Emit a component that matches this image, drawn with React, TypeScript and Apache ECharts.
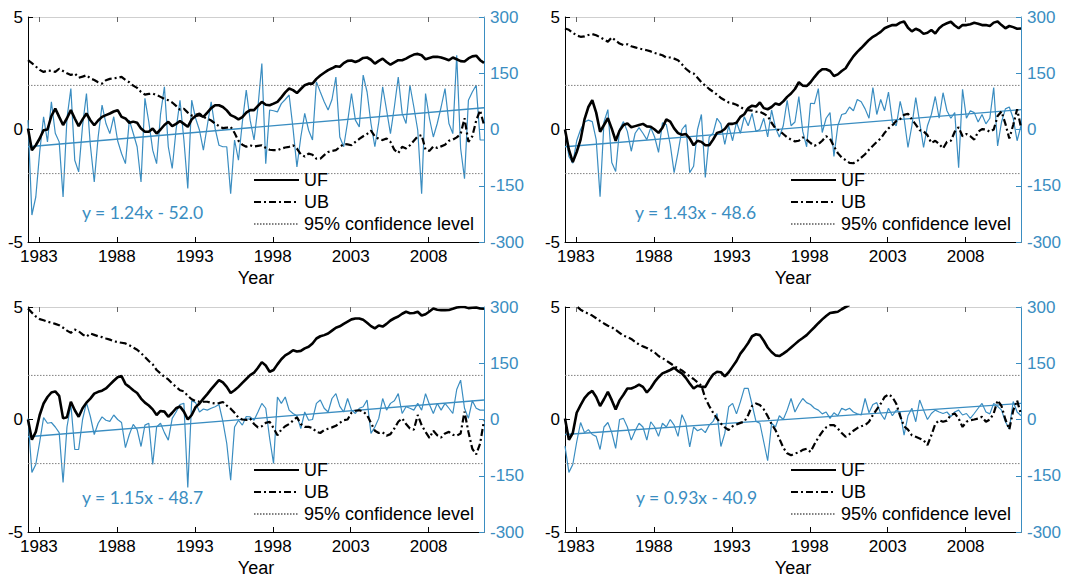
import React, { useEffect, useRef } from "react";
import * as echarts from "echarts";

// ---------- data ----------
const X_START = 1982.3; // first quarterly observation (decimal year)
const X_STEP = 0.25; // quarterly
const N_POINTS = 118;
const YEAR_TICKS = [1983, 1988, 1993, 1998, 2003, 2008];
const LEFT_TICKS = { min: -5, max: 5, interval: 5 };
const RIGHT_TICKS = { min: -300, max: 300, interval: 150 };
const CONF_LEVEL = 1.96;

// Panel A (top-left)
const UF_A = [
  0.04, -0.92, -0.7, -0.4, -0.03, 0, 0.6, 0.93, 0.56, 0.2,
  0.5, 0.86, 0.49, 0.15, 0.45, 0.71, 0.41, 0.19, 0.4, 0.56,
  0.64, 0.71, 0.8, 0.86, 0.56, 0.49, 0.3, 0.35, 0.3, 0.04,
  -0.1, -0.1, 0.04, -0.18, 0.0, 0.2, 0.34, 0.15, 0.25, 0.38,
  0.25, 0.12, 0.45, 0.6, 0.64, 0.56, 0.75, 0.95, 1.08, 1.08,
  1.0, 0.85, 0.64, 0.56, 0.45, 0.55, 0.75, 0.86, 0.86, 1.05,
  1.23, 1.1, 1.08, 1.15, 1.23, 1.43, 1.65, 1.82, 1.75, 1.62,
  1.8, 1.97, 2.04, 2.04, 2.25, 2.4, 2.52, 2.64, 2.72, 2.81,
  2.79, 2.95, 3.05, 3.07, 3.0, 3.07, 3.18, 3.2, 3.1, 2.93,
  3.05, 3.15, 3.0, 2.88, 2.98, 3.08, 3.08, 3.15, 3.25, 3.33,
  3.36, 3.3, 3.12, 3.18, 3.23, 3.23, 3.2, 3.14, 3.08, 3.2,
  3.12, 3.04, 3.02, 3.16, 3.25, 3.28, 3.08, 2.96,
];
const UB_A = [
  3.08, 2.95, 2.8, 2.65, 2.56, 2.62, 2.6, 2.56, 2.7, 2.6,
  2.5, 2.42, 2.49, 2.3, 2.35, 2.41, 2.27, 2.2, 2.1, 2.04,
  2.19, 2.25, 2.27, 2.3, 2.34, 2.2, 2.1, 1.95, 1.85, 1.67,
  1.55, 1.58, 1.6, 1.53, 1.45, 1.36, 1.3, 1.2, 1.05, 0.88,
  0.92, 0.75, 0.62, 0.65, 0.71, 0.56, 0.48, 0.4, 0.27, 0.15,
  0.06, 0.08, 0.12, -0.15, -0.5, -0.68, -0.77, -0.7, -0.76, -0.73,
  -0.7, -0.82, -0.9, -0.92, -0.92, -0.85, -0.8, -0.77, -0.7, -0.85,
  -1.1, -1.2, -1.07, -1.12, -1.3, -1.3, -1.14, -1.0, -0.95, -0.92,
  -0.78, -0.65, -0.66, -0.7, -0.55, -0.42, -0.3, -0.2, -0.05, -0.3,
  -0.42, -0.47, -0.4, -0.55, -0.9, -1.05, -0.77, -0.84, -0.7, -0.5,
  -0.3, -0.25, -0.9, -0.95, -0.75, -0.82, -0.75, -0.68, -0.5, -0.45,
  -0.35, -0.2, 0.5, -0.55, -0.3, 0.4, 0.85, 0.2,
];
const FLOW_A = [
  25, -228, -180, -60, 34, -33, 74, -10, -33, -180,
  30, 109, -82, -113, 10, 96, -42, -140, -20, 65,
  16, -11, 34, -30, -64, -91, 25, -10, -46, -140,
  83, 20, -55, -91, 40, 114, -46, -104, 0, 78,
  -28, -157, 78, 30, -2, -55, 10, 74, 3, -42,
  -46, -46, -171, -28, -82, 20, 105, 25, -28, 60,
  176, -91, 52, 50, 47, 69, 80, 92, 3, -100,
  -20, 43, -2, -28, 127, 100, 74, 52, 80, 140,
  -20, -46, 20, 96, 25, 7, 145, 100, 16, -46,
  20, 114, 52, -11, 60, 140, 43, 16, 118, 60,
  -2, -171, 96, 30, -20, 16, 60, 109, 16, -11,
  198, -50, -131, 78, 100, 118, -28, -28,
];
const TREND_A = [-46, 58];

// Panel B (top-right)
const UF_B = [
  0, -0.9, -1.45, -1.0, -0.45, 0.45, 1.0, 1.3, 0.75, -0.1,
  0.2, 0.5, 0.04, -0.5, -0.05, 0.2, 0.27, 0.1, 0.15, 0.2,
  0.25, 0.14, 0.12, 0.0, -0.15, 0.08, 0.45, 0.35, 0.05, -0.16,
  -0.23, -0.2, -0.4, -0.7, -0.5, -0.55, -0.7, -0.7, -0.45, -0.15,
  -0.1, 0.02, 0.25, 0.25, 0.3, 0.56, 0.68, 0.95, 1.06, 1.02,
  1.2, 0.95, 0.9, 1.0, 1.16, 1.1, 1.25, 1.45, 1.6, 1.8,
  2.1, 1.95, 1.93, 2.1, 2.33, 2.54, 2.68, 2.68, 2.6, 2.38,
  2.45, 2.6, 2.72, 3.0, 3.25, 3.45, 3.62, 3.8, 3.98, 4.12,
  4.22, 4.34, 4.5, 4.58, 4.64, 4.64, 4.75, 4.8, 4.52, 4.36,
  4.48, 4.4, 4.25, 4.3, 4.42, 4.27, 4.5, 4.64, 4.72, 4.79,
  4.62, 4.5, 4.64, 4.64, 4.68, 4.74, 4.7, 4.64, 4.64, 4.6,
  4.75, 4.8, 4.64, 4.5, 4.6, 4.55, 4.48, 4.49,
];
const UB_B = [
  4.49, 4.43, 4.3, 4.18, 4.12, 4.14, 4.2, 4.24, 4.19, 4.1,
  4.0, 3.9, 4.09, 3.95, 3.82, 3.75, 3.79, 3.7, 3.65, 3.6,
  3.56, 3.52, 3.47, 3.4, 3.35, 3.3, 3.2, 3.2, 3.15, 3.08,
  2.9, 2.7, 2.56, 2.49, 2.3, 2.1, 1.95, 1.8, 1.68, 1.55,
  1.4, 1.3, 1.2, 1.16, 1.1, 1.0, 0.9, 0.86, 0.84, 0.79,
  0.79, 0.7, 0.6, 0.3, 0.05, -0.05, -0.2, -0.35, -0.45, -0.53,
  -0.5, -0.35, -0.45, -0.6, -0.72, -0.65, -0.5, -0.3, -0.4, -0.75,
  -1.05, -1.25, -1.36, -1.48, -1.5, -1.4, -1.25, -1.1, -0.9, -0.72,
  -0.55, -0.4, -0.15, 0.05, 0.19, 0.38, 0.47, 0.65, 0.7, 0.45,
  0.22, -0.03, -0.08, -0.25, -0.6, -0.5, -0.65, -0.84, -0.55, -0.5,
  -0.1, 0.1, -0.3, -0.2, -0.3, -0.45, -0.1, 0.02, 0.0, -0.1,
  0.0, 0.6, 0.8, 0.25, -0.4, 0.2, 0.9, 0.1,
];
const FLOW_B = [
  -2, -72, -90, -30, 0, 20, 25, 21, -27, -179,
  20, 53, -88, -112, 0, 21, -5, -58, -10, 5,
  -10, -27, 5, -20, -61, 18, 13, -40, -115, -61,
  0, 13, -115, -98, 0, 40, -128, -20, -10, 30,
  15, -40, 10, -30, 20, -10, 34, 10, 43, -5,
  0, 30, -20, 52, 5, -20, 10, 78, 10, 20,
  88, -5, -46, 70, 69, 109, -8, 30, 45, -72,
  10, 40, 43, 60, 50, 80, 74, 55, 30, 112,
  40, 80, 50, 100, 20, 10, 75, 30, -48, 10,
  85, 20, -48, 10, 40, 88, 30, 98, 50, 30,
  45, -102, 107, 30, 50, 45, 20, 40, 15, 30,
  112, -44, 20, 55, 60, 30, -30, 10,
];
const TREND_B = [-46, 53];

// Panel C (bottom-left)
const UF_C = [
  0, -0.9, -0.55, 0.2, 0.71, 1.0, 1.2, 1.25, 1.05, 0.05,
  0.1, 0.79, 0.41, 0.12, 0.5, 0.75, 0.93, 1.15, 1.23, 1.28,
  1.38, 1.55, 1.72, 1.88, 1.93, 1.58, 1.45, 1.3, 1.18, 0.93,
  0.75, 0.62, 0.45, 0.2, 0.38, 0.35, 0.12, 0.3, 0.5, 0.58,
  0.35, 0.0, 0.2, 0.55, 0.71, 0.93, 1.13, 1.35, 1.55, 1.75,
  1.65, 1.45, 1.18, 1.3, 1.45, 1.63, 1.8, 1.97, 2.08, 2.3,
  2.55, 2.4, 2.12, 2.2, 2.45, 2.68, 2.85, 2.95, 3.08, 3.02,
  3.05, 3.16, 3.23, 3.38, 3.6, 3.7, 3.75, 3.82, 3.95, 4.08,
  4.14, 4.25, 4.35, 4.45, 4.49, 4.49, 4.43, 4.3, 4.15, 4.05,
  4.18, 4.13, 4.25, 4.4, 4.5, 4.58, 4.7, 4.79, 4.72, 4.73,
  4.79, 4.62, 4.68, 4.8, 4.93, 4.88, 4.86, 4.86, 4.87, 4.92,
  4.98, 5.0, 5.0, 4.95, 4.97, 4.98, 4.93, 4.92,
];
const UB_C = [
  4.93, 4.75, 4.58, 4.46, 4.41, 4.35, 4.3, 4.25, 4.19, 4.08,
  3.95, 3.85, 4.0, 3.92, 3.78, 3.68, 3.82, 3.76, 3.7, 3.66,
  3.6, 3.55, 3.48, 3.44, 3.41, 3.38, 3.3, 3.2, 3.1, 2.95,
  2.78, 2.6, 2.45, 2.2, 2.05, 1.9, 1.78, 1.6, 1.45, 1.3,
  1.25, 1.05, 0.9, 0.82, 0.79, 0.79, 0.79, 0.74, 0.71, 0.73,
  0.78, 0.62, 0.48, 0.3, 0.08, 0.0, -0.02, 0.04, -0.2, -0.35,
  -0.3, -0.15, -0.1, -0.38, -0.7, -0.45, -0.3, -0.2, -0.05, 0.1,
  -0.2, -0.33, -0.33, -0.38, -0.55, -0.6, -0.47, -0.41, -0.35, -0.28,
  -0.15, -0.03, 0.0, 0.3, 0.39, 0.41, 0.35, 0.2, -0.15, -0.5,
  -0.6, -0.57, -0.72, -0.65, -0.4, -0.1, 0.05, -0.2, -0.4, -0.45,
  0.2, -0.25, -0.55, -0.82, -0.5, -0.7, -0.8, -0.62, -0.55, -0.68,
  -0.72, -0.62, 0.35, -0.55, -1.3, -1.55, -1.07, -0.05,
];
const FLOW_C = [
  3, -141, -120, -60, 5, -10, -8, -20, -35, -168,
  -20, 40, -80, -80, 0, 45, 8, -40, -10, 7,
  -2, -5, 12, 0, -8, -75, -40, -13, -27, -72,
  -15, -10, -120, -20, -10, -35, -55, 3, 20, 40,
  43, -181, 50, 45, 20, 28, 25, 30, 34, 40,
  -5, -64, -162, -20, -2, -15, 8, 7, -2, 20,
  43, 30, -50, -117, 60, 43, 60, 25, 16, 10,
  -24, 20, -2, 0, 43, 52, 30, 20, 56, 69,
  35, 20, 56, 25, 16, 30, 34, 52, -37, -20,
  3, 56, 25, 43, 50, 69, 16, 34, 30, 25,
  43, 25, 69, 40, 16, 43, 25, 43, 30, 16,
  80, 105, 30, 3, 50, 30, 25, 25,
];
const TREND_C = [-46, 52];

// Panel D (bottom-right) - UF leaves the plot at the top after ~2000
const UF_D = [
  0.04, -0.9, -0.6, 0.3, 0.64, 0.95, 1.15, 1.27, 1.0, 0.6,
  0.9, 1.23, 0.86, 0.45, 0.85, 1.1, 1.38, 1.38, 1.45, 1.55,
  1.45, 1.2, 1.4, 1.67, 1.88, 2.05, 2.12, 2.2, 2.3, 2.15,
  2.05, 1.85, 1.6, 1.38, 1.5, 1.45, 1.45, 1.75, 2.0, 2.12,
  2.1, 1.92, 2.1, 2.35, 2.6, 2.93, 3.15, 3.4, 3.7, 3.79,
  3.75, 3.5, 3.2, 3.0, 2.85, 2.82, 2.93, 3.05, 3.2, 3.35,
  3.5, 3.62, 3.75, 3.93, 4.1, 4.28, 4.45, 4.6, 4.73, 4.76,
  4.79, 4.9, 5.0, 5.1,
];
const UB_D = [
  5.35, 5.25, 5.15, 5.03, 4.88, 4.78, 4.7, 4.62, 4.5, 4.38,
  4.27, 4.17, 4.1, 3.98, 3.85, 3.72, 3.67, 3.58, 3.45, 3.33,
  3.25, 3.18, 3.08, 2.98, 2.82, 2.73, 2.62, 2.5, 2.38, 2.27,
  2.18, 2.05, 1.92, 1.8, 1.65, 1.5, 0.95, 0.6, 0.3, 0.04,
  -0.18, -0.35, -0.47, -0.3, -0.22, -0.15, -0.1, 0.2, 0.6, 0.71,
  0.64, 0.45, 0.15, -0.2, -0.47, -0.85, -1.25, -1.5, -1.59, -1.51,
  -1.46, -1.35, -1.3, -1.44, -1.1, -0.8, -0.55, -0.35, -0.25, -0.25,
  -0.4, -0.6, -0.77, -0.65, -0.5, -0.38, -0.3, -0.25, -0.1, 0.2,
  0.45, 0.7, 1.0, 1.12, 1.0, 0.7, 0.15, -0.3, -0.45, -0.7,
  -0.77, -0.84, -0.92, -1.14, -0.7, -0.2, -0.03, -0.1, -0.05, 0.2,
  0.27, 0.04, -0.33, -0.1, -0.03, 0.0, 0.04, 0.12, -0.1, 0.0,
  0.27, 0.85, 0.6, 0.0, -0.44, 0.4, 0.85, 0.22,
];
const FLOW_D = [
  -71, -141, -120, -60, -8, -35, -27, -40, -45, -80,
  -20, -8, -35, -77, 0, 3, -20, -55, -30, -10,
  -20, -55, -6, -20, -45, -10, -20, 0, -15, -45,
  13, -10, -73, -20, -30, -25, -35, -15, -5, 16,
  -72, -37, 34, 43, 15, 47, 83, 83, 40, -5,
  -10, -60, -110, -10, -20, 10, 0, 25, 56, 20,
  40, 56, 45, 40, 30, 25, 15, 20, 3, 18,
  10, 30, 25, 30, 20, 15, 12, 56, 18, 40,
  45, 16, 0, 30, 10, 25, 20, -42, 10, 30,
  -6, 52, 25, 0, 16, 25, 20, 16, 20, 8,
  20, 25, 12, 16, 3, 16, 30, 43, 20, 15,
  43, 35, 25, -6, -25, 48, 20, 10,
];
const TREND_D = [-40, 43];

const EQ_LABELS = [
  "y = 1.24x - 52.0",
  "y = 1.43x - 48.6",
  "y = 1.15x - 48.7",
  "y = 0.93x - 40.9",
];

// ---------- layout / style ----------
const FONT = "'Liberation Sans', Arial, Helvetica, sans-serif";
const EQ_FONT = "Lato, 'Open Sans', sans-serif";
const BLUE = "#3a8dc1";
const GRID_W = 456;
const GRID_H = 225;
const LAYOUT = [
  { left: 28, top: 17, eqX: 82, eqY: 203 },
  { left: 565, top: 17, eqX: 635, eqY: 203 },
  { left: 28, top: 307, eqX: 82, eqY: 488 },
  { left: 565, top: 307, eqX: 636, eqY: 488 },
];

const PANELS = [
  { uf: UF_A, ub: UB_A, flow: FLOW_A, trend: TREND_A },
  { uf: UF_B, ub: UB_B, flow: FLOW_B, trend: TREND_B },
  { uf: UF_C, ub: UB_C, flow: FLOW_C, trend: TREND_C },
  { uf: UF_D, ub: UB_D, flow: FLOW_D, trend: TREND_D },
];

function buildOption() {
  const xMin = X_START;
  const xMax = X_START + X_STEP * (N_POINTS - 1);
  const toPairs = (arr: number[]) => arr.map((v, i) => [X_START + X_STEP * i, v]);

  const grid: any[] = [];
  const xAxis: any[] = [];
  const yAxis: any[] = [];
  const series: any[] = [];
  const legend: any[] = [];
  const graphic: any[] = [];

  PANELS.forEach((p, k) => {
    const L = LAYOUT[k];
    grid.push({ left: L.left, top: L.top, width: GRID_W, height: GRID_H, containLabel: false });

    xAxis.push({
      type: "value",
      gridIndex: k,
      position: "bottom",
      min: xMin,
      max: xMax,
      axisLine: { onZero: false, lineStyle: { color: "#000", width: 1 } },
      axisTick: { show: true, inside: true, length: 5, customValues: YEAR_TICKS, lineStyle: { color: "#000" } },
      axisLabel: {
        customValues: YEAR_TICKS,
        margin: 6,
        color: "#000",
        fontSize: 17,
        fontFamily: FONT,
        formatter: (v: number) => String(Math.round(v)),
      },
      splitLine: { show: false },
      name: "Year",
      nameLocation: "middle",
      nameGap: 27,
      nameTextStyle: { color: "#000", fontSize: 18, fontFamily: FONT },
    });
    xAxis.push({
      type: "value",
      gridIndex: k,
      position: "top",
      min: xMin,
      max: xMax,
      axisLine: { onZero: false, lineStyle: { color: "#cfcfcf", width: 1 } },
      axisTick: { show: true, inside: true, length: 5, customValues: YEAR_TICKS, lineStyle: { color: "#666" } },
      axisLabel: { show: false },
      splitLine: { show: false },
    });

    yAxis.push({
      type: "value",
      gridIndex: k,
      position: "left",
      min: LEFT_TICKS.min,
      max: LEFT_TICKS.max,
      interval: LEFT_TICKS.interval,
      axisLine: { show: true, onZero: false, lineStyle: { color: "#000", width: 1 } },
      axisTick: { show: true, inside: true, length: 5, lineStyle: { color: "#000" } },
      axisLabel: { margin: 5, color: "#000", fontSize: 17, fontFamily: FONT },
      splitLine: { show: false },
    });
    yAxis.push({
      type: "value",
      gridIndex: k,
      position: "right",
      min: RIGHT_TICKS.min,
      max: RIGHT_TICKS.max,
      interval: RIGHT_TICKS.interval,
      axisLine: { show: true, onZero: false, lineStyle: { color: BLUE, width: 1 } },
      axisTick: { show: true, inside: true, length: 5, lineStyle: { color: BLUE } },
      axisLabel: { margin: 6, color: BLUE, fontSize: 17, fontFamily: FONT },
      splitLine: { show: false },
    });

    const xi = 2 * k;
    const yl = 2 * k;
    const yr = 2 * k + 1;

    series.push({
      name: "flow",
      type: "line",
      xAxisIndex: xi,
      yAxisIndex: yr,
      data: toPairs(p.flow),
      symbol: "none",
      lineStyle: { color: BLUE, width: 1.2 },
      itemStyle: { color: BLUE },
      z: 2,
      silent: true,
    });
    series.push({
      name: "trend",
      type: "line",
      xAxisIndex: xi,
      yAxisIndex: yr,
      data: [
        [xMin, p.trend[0]],
        [xMax, p.trend[1]],
      ],
      symbol: "none",
      lineStyle: { color: BLUE, width: 1.3 },
      itemStyle: { color: BLUE },
      z: 3,
      silent: true,
    });
    [CONF_LEVEL, -CONF_LEVEL].forEach((c) => {
      series.push({
        name: "95% confidence level",
        type: "line",
        xAxisIndex: xi,
        yAxisIndex: yl,
        data: [
          [xMin, c],
          [xMax, c],
        ],
        symbol: "none",
        lineStyle: { color: "#808080", width: 1, type: [1.5, 1.5] },
        itemStyle: { color: "#808080" },
        z: 3,
        silent: true,
      });
    });
    series.push({
      name: "UB",
      type: "line",
      xAxisIndex: xi,
      yAxisIndex: yl,
      data: toPairs(p.ub),
      symbol: "none",
      lineStyle: { color: "#000", width: 2.2, type: [7, 3, 2, 3] },
      itemStyle: { color: "#000" },
      z: 4,
      silent: true,
    });
    series.push({
      name: "UF",
      type: "line",
      xAxisIndex: xi,
      yAxisIndex: yl,
      data: toPairs(p.uf),
      symbol: "none",
      lineStyle: { color: "#000", width: 2.6 },
      itemStyle: { color: "#000" },
      z: 5,
      silent: true,
    });

    legend.push({
      orient: "vertical",
      left: L.left + 225,
      top: L.top + 154,
      itemWidth: 45,
      itemHeight: 12,
      itemGap: 4,
      padding: 0,
      selectedMode: false,
      itemStyle: { opacity: 0 },
      data: ["UF", "UB", "95% confidence level"],
      textStyle: { color: "#000", fontSize: 18, fontFamily: FONT },
    });

    graphic.push({
      type: "text",
      left: L.eqX,
      top: L.eqY,
      silent: true,
      style: { text: EQ_LABELS[k], fill: BLUE, fontSize: 17.5, fontFamily: EQ_FONT },
    });
  });

  return {
    animation: false,
    backgroundColor: "#ffffff",
    grid,
    xAxis,
    yAxis,
    series,
    legend,
    graphic,
  };
}

export default function App() {
  const ref = useRef<HTMLDivElement>(null);
  useEffect(() => {
    if (!ref.current) return;
    const chart = echarts.init(ref.current, undefined, { renderer: "svg" });
    chart.setOption(buildOption() as any);
    return () => chart.dispose();
  }, []);
  return (
    <div
      ref={ref}
      style={{ position: "fixed", left: 0, top: 0, width: 1066, height: 579, background: "#fff" }}
    />
  );
}
